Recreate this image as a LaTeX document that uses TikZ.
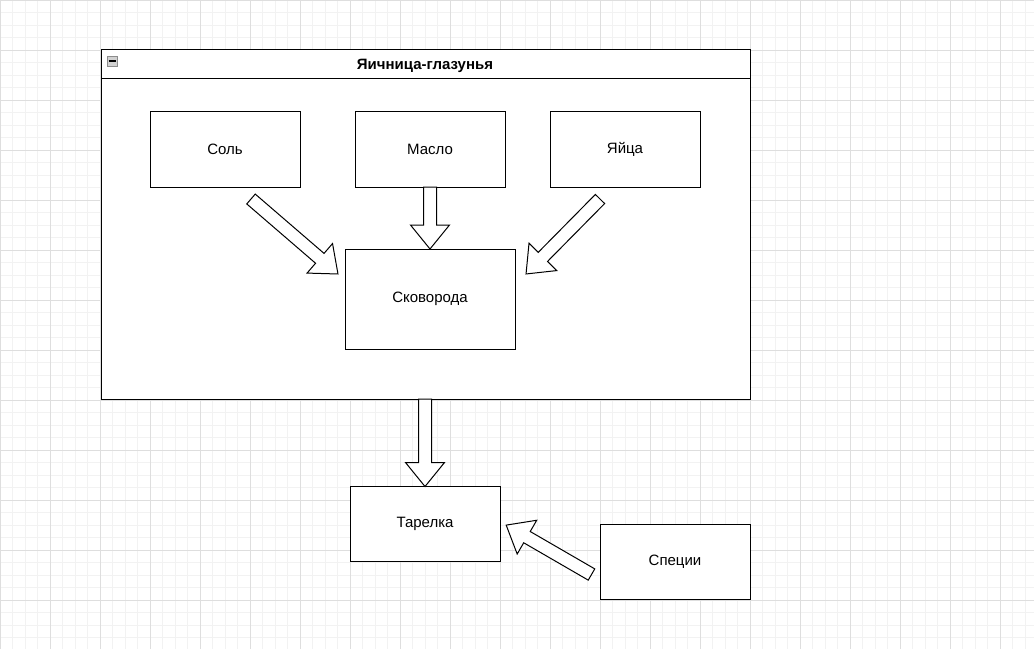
\documentclass[tikz,border=0pt]{standalone}
\usepackage{fontspec}
\setmainfont{Liberation Sans}
\usetikzlibrary{calc}

\tikzset{
  box/.style={draw, fill=white, line width=1pt, minimum width=150, minimum height=76,
    inner sep=0pt, outer sep=0pt, font=\fontsize{15}{18}\selectfont},
  fat/.style={draw, fill=white, line width=1pt, line join=miter},
  minorline/.style={draw=black!5, line width=0.8pt},
  majorline/.style={draw=black!13, line width=0.8pt}
}
\newcommand\fatarrow[2]{%
  \draw[fat] let \p1=($(#2)-(#1)$), \n1={atan2(\y1,\x1)}, \n2={veclen(\x1,\y1)} in
    [shift={(#1)}, rotate=\n1] (0,6.5) -- (\n2-24,6.5) -- (\n2-24,19.5) -- (\n2,0)
    -- (\n2-24,-19.5) -- (\n2-24,-6.5) -- (0,-6.5) -- cycle;
}

\begin{document}
\begin{tikzpicture}[x=1pt, y=-1pt]
\useasboundingbox (0,0) rectangle (1034,649);
\fill[white] (0,0) rectangle (1034,649);
\foreach \i in {0,12.5,...,1034} \draw[minorline] (\i,0) -- (\i,649);
\foreach \j in {0,12.5,...,649} \draw[minorline] (0,\j) -- (1034,\j);
\foreach \i in {0,50,...,1000} \draw[majorline] (\i,0) -- (\i,649);
\foreach \j in {0,50,...,600} \draw[majorline] (0,\j) -- (1034,\j); % grid
\node[draw, fill=white, line width=1pt, minimum width=649, minimum height=350, inner sep=0pt, outer sep=0pt] (group) at (425.5,224) {};
\draw[line width=1pt] (101,78) -- (750,78);
\node[font=\fontsize{15}{18}\selectfont\bfseries] (title) at (425,66) {Яичница-глазунья};
\node[draw=black!45, fill=black!18, minimum size=10, inner sep=0pt] (fold) at (112,61) {};
\draw[line width=1.3pt] ($(fold.center)+(-3.5,0)$) -- ($(fold.center)+(3.5,0)$); % header
\node[box] (sol) at (225,149) {Соль};
\node[box] (maslo) at (430,149) {Масло};
\node[box] (yaica) at (625,149) {Яйца};
\node[box, minimum width=170, minimum height=100] (skovoroda) at (430,299) {Сковорода};
\node[box, minimum height=75] (tarelka) at (425,524) {Тарелка};
\node[box, minimum height=75] (specii) at (675,561.5) {Специи}; % boxes
\coordinate (sol-out) at (251,199);
\coordinate (sko-in1) at (338,274);
\coordinate (yaica-out) at (600,199);
\coordinate (sko-in3) at (526,274);
\coordinate (specii-out) at (591.5,574.5);
\coordinate (tarelka-in) at (506,525);
\fatarrow{sol-out}{sko-in1}
\fatarrow{maslo.south}{skovoroda.north}
\fatarrow{yaica-out}{sko-in3}
\fatarrow{group.south -| tarelka.north}{tarelka.north}
\fatarrow{specii-out}{tarelka-in}
\end{tikzpicture}
\end{document}
